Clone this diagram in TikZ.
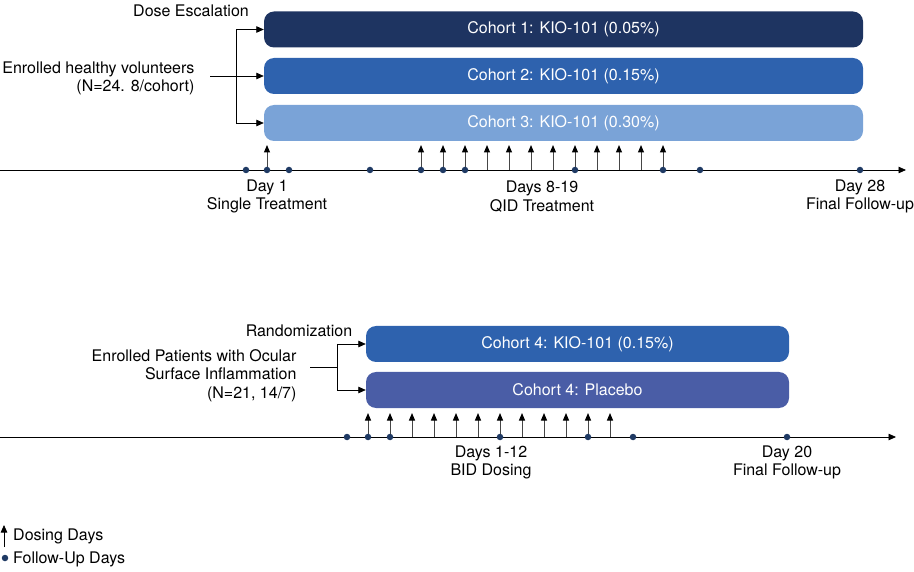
\documentclass[tikz,border=0pt]{standalone}
\usepackage{fontspec}
\setmainfont{TeX Gyre Heros}
\usetikzlibrary{arrows.meta}
\definecolor{navy}{HTML}{1E3461}
\definecolor{midblue}{HTML}{2E62AE}
\definecolor{lightblue}{HTML}{7AA3D7}
\definecolor{plcblue}{HTML}{4A5DA6}
\definecolor{dotblue}{HTML}{1F3A64}
\begin{document}
\begin{tikzpicture}[x=1pt, y=-1pt,
        font = \fontsize{16}{18.5}\selectfont,
      cohort/.style = {rounded corners=10pt, minimum height=36pt,
                       inner sep=0pt, text=white},
        conn/.style = {-{Triangle[length=7.5pt,width=6.5pt]}, line width=0.8pt},
        dose/.style = {-{Triangle[length=7.5pt,width=6pt,black]}, line width=1pt,
                       gray!55!black},
          fu/.style = {circle, fill=dotblue, inner sep=0pt, minimum size=6.5pt},
         lbl/.style = {align=center}
                                ]
    \useasboundingbox (0,0) rectangle (914,572);
    % dose escalation cohorts
    \node[cohort, fill=navy, minimum width=599pt]      (c1) at (563.5,29.5) {Cohort 1: KIO-101 (0.05\%)};
    \node[cohort, fill=midblue, minimum width=599pt]   (c2) at (563.5,76)   {Cohort 2: KIO-101 (0.15\%)};
    \node[cohort, fill=lightblue, minimum width=599pt] (c3) at (563.5,123)  {Cohort 3: KIO-101 (0.30\%)};
    \node (esc) at (191,11) {Dose Escalation};
    \node[align=right, anchor=east] (healthy) at (198,78.5)
        {Enrolled healthy volunteers\\(N=24. 8/cohort)};
    \coordinate (split1) at (236,77);
    \draw[line width=0.8pt] (c1.west -| split1) -- (c3.west -| split1);
    \draw[conn] ([xshift=12pt]healthy.east |- c2.west) -- (c2.west);
    \draw[conn] (c1.west -| split1) -- (c1.west);
    \draw[conn] (c3.west -| split1) -- (c3.west);

    % first timeline
    \coordinate (t1s) at (0,170);
    \coordinate (t1e) at (906,170);
    \draw[conn] (t1s) -- (t1e);
    \foreach \d in {267,421,443,...,663}
        \draw[dose] (\d,170) -- (\d,145);
    \foreach \d in {246,267,289,370,421,443,465,575,663,700,860}
        \node[fu] at (\d,170) {};
    \node[lbl] (d1)  at (267,196.5)  {Day 1\\Single Treatment};
    \node[lbl] (d8)  at (542,196.5)  {Days 8-19\\QID Treatment};
    \node[lbl] (d28) at (860,196.5)  {Day 28\\Final Follow-up};

    % randomized cohorts
    \node[cohort, fill=midblue, minimum width=423pt] (c4)  at (577.5,344) {Cohort 4: KIO-101 (0.15\%)};
    \node[cohort, fill=plcblue, minimum width=423pt] (plc) at (577.5,390) {Cohort 4: Placebo};
    \node (rand) at (299,331) {Randomization};
    \node[align=right, anchor=east] (patients) at (300,375.5)
        {Enrolled Patients with Ocular\\Surface Inflammation\\(N=21, 14/7)};
    \coordinate (split2) at (337,367);
    \draw[line width=0.8pt] ([xshift=10pt]patients.east |- split2) -- (split2);
    \draw[line width=0.8pt] (c4.west -| split2) -- (plc.west -| split2);
    \draw[conn] (c4.west -| split2) -- (c4.west);
    \draw[conn] (plc.west -| split2) -- (plc.west);

    % second timeline
    \coordinate (t2s) at (0,437);
    \coordinate (t2e) at (896,437);
    \draw[conn] (t2s) -- (t2e);
    \foreach \d in {368,390,...,610}
        \draw[dose] (\d,437) -- (\d,413);
    \foreach \d in {347,368,390,500,588,633,787}
        \node[fu] at (\d,437) {};
    \node[lbl] (d12) at (491,462.5) {Days 1-12\\BID Dosing};
    \node[lbl] (d20) at (787,462.5) {Day 20\\Final Follow-up};

    % legend
    \coordinate (lga) at (4,547);
    \coordinate (lgb) at (4,525);
    \draw[conn] (lga) -- (lgb);
    \node[anchor=west, inner sep=0pt] (lgdose) at (13,536) {Dosing Days};
    \node[fu] (lgdot) at (5,558) {};
    \node[anchor=west, inner sep=0pt] (lgfu) at (13,559) {Follow-Up Days};
\end{tikzpicture}
\end{document}
